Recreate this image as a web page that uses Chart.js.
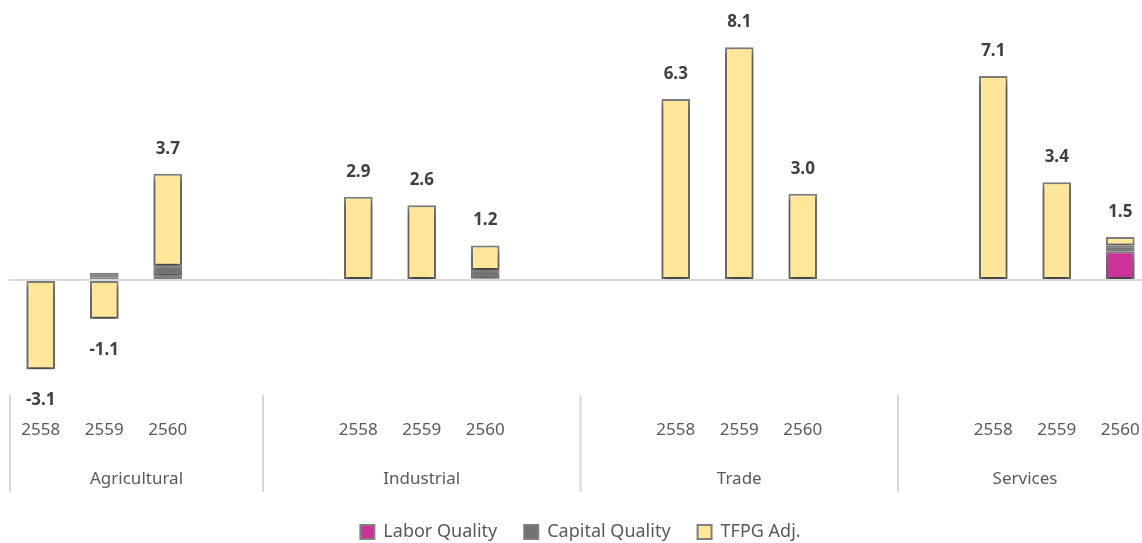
<!DOCTYPE html>
<html>
<head>
<meta charset="utf-8">
<script src="https://cdn.jsdelivr.net/npm/chart.js@4.4.0/dist/chart.umd.min.js"></script>
<style>
    html, body { margin: 0; padding: 0; background: #ffffff; overflow: hidden; }
    #wrap { width: 1170px; height: 543px; }
</style>
</head>
<body>
<div id="wrap"><canvas id="barChart" width="1170" height="543"></canvas></div>
<script>
// Sectors and years
var sectors = ['Agricultural', 'Industrial', 'Trade', 'Services'];
var years = ['2558', '2559', '2560'];

// Components of each bar (sector by sector, 2558-2560)
var laborQuality   = [0, 0.10, 0.15,   0, 0, 0.05,   0, 0, 0,   0, 0, 1.00];
var capitalQuality = [0, 0.15, 0.35,   0, 0, 0.30,   0, 0, 0,   0, 0, 0.20];
var tfpgAdj        = [-3.1, -1.35, 3.2,   2.9, 2.6, 0.85,   6.3, 8.1, 3.0,   7.1, 3.4, 0.3];

// Totals written above / below each bar
var totals = [-3.1, -1.1, 3.7,   2.9, 2.6, 1.2,   6.3, 8.1, 3.0,   7.1, 3.4, 1.5];

// Excel leaves two empty slots between sector groups
var gapSlots = 2;

function buildSlots(values) {
    var out = [];
    for (var s = 0; s < sectors.length; s++) {
        if (s > 0) {
            for (var g = 0; g < gapSlots; g++) out.push(null);
        }
        for (var y = 0; y < years.length; y++) {
            out.push(values[s * years.length + y]);
        }
    }
    return out;
}

var labels = buildSlots(sectors.flatMap(function () { return years; })).map(function (l) { return l === null ? '' : l; });
var slotTotals = buildSlots(totals);

// Drop shadow under the bars
var shadowPlugin = {
    id: 'barShadow',
    beforeDatasetsDraw: function (chart) {
        var ctx = chart.ctx;
        ctx.save();
        ctx.shadowColor = 'rgba(0,0,0,0.55)';
        ctx.shadowBlur = 6;
        ctx.shadowOffsetY = 4;
    },
    afterDatasetsDraw: function (chart) {
        chart.ctx.restore();
    }
};

// Value labels, sector names and separators
var extrasPlugin = {
    id: 'extras',
    afterDraw: function (chart) {
        var ctx = chart.ctx;
        var x = chart.scales.x;
        var yS = chart.scales.y;
        var sets = chart.data.datasets;
        ctx.save();

        // totals
        ctx.font = 'bold 17px "Noto Sans"';
        ctx.fillStyle = '#404040';
        ctx.textAlign = 'center';
        ctx.textBaseline = 'middle';
        for (var i = 0; i < labels.length; i++) {
            if (slotTotals[i] === null) continue;
            var pos = 0, neg = 0;
            sets.forEach(function (d) {
                var v = d.data[i] || 0;
                if (v > 0) pos += v; else neg += v;
            });
            var px = x.getPixelForValue(i);
            if (slotTotals[i] >= 0) {
                ctx.fillText(slotTotals[i].toFixed(1), px, yS.getPixelForValue(pos) - 25);
            } else {
                ctx.fillText(slotTotals[i].toFixed(1), px, yS.getPixelForValue(neg) + 31);
            }
        }

        // separators between sector groups
        var bottom = chart.chartArea.bottom;
        var seps = [chart.chartArea.left + 1];
        var per = years.length + gapSlots;
        for (var s = 1; s < sectors.length; s++) {
            var a = s * per - gapSlots;
            seps.push((x.getPixelForValue(a) + x.getPixelForValue(a + 1)) / 2);
        }
        seps.push(chart.chartArea.right);
        ctx.strokeStyle = '#d9d9d9';
        ctx.lineWidth = 2;
        seps.forEach(function (sx) {
            ctx.beginPath();
            ctx.moveTo(sx, bottom);
            ctx.lineTo(sx, bottom + 97);
            ctx.stroke();
        });

        // sector names centred between separators
        ctx.font = '17px "Noto Sans"';
        ctx.fillStyle = '#595959';
        for (var k = 0; k < sectors.length; k++) {
            ctx.fillText(sectors[k], (seps[k] + seps[k + 1]) / 2, bottom + 84);
        }
        ctx.restore();
    }
};

var ctx = document.getElementById('barChart').getContext('2d');
var barChart = new Chart(ctx, {
    type: 'bar',
    data: {
        labels: labels,
        datasets: [{
            label: 'Labor Quality',
            data: buildSlots(laborQuality),
            backgroundColor: '#cc3399',
            borderColor: '#7f7f7f',
            borderWidth: 2
        }, {
            label: 'Capital Quality',
            data: buildSlots(capitalQuality),
            backgroundColor: '#767171',
            borderColor: '#7f7f7f',
            borderWidth: 2
        }, {
            label: 'TFPG Adj.',
            data: buildSlots(tfpgAdj),
            backgroundColor: '#ffe699',
            borderColor: '#7f7f7f',
            borderWidth: 2
        }]
    },
    options: {
        responsive: false,
        animation: false,
        layout: { padding: { top: 7, left: 9, right: 18, bottom: -8 } },
        datasets: {
            bar: { categoryPercentage: 1, barPercentage: 0.45, borderSkipped: false }
        },
        scales: {
            x: {
                stacked: true,
                grid: { display: false },
                border: { display: false },
                ticks: {
                    color: '#595959',
                    font: { family: 'Noto Sans', size: 17 },
                    padding: 17,
                    autoSkip: false,
                    maxRotation: 0
                },
                afterFit: function (scale) { scale.height = 101; }
            },
            y: {
                stacked: true,
                min: -4,
                max: 9.5,
                border: { display: false },
                ticks: { display: false, stepSize: 1 },
                grid: {
                    drawTicks: false,
                    lineWidth: 2,
                    color: function (c) { return c.tick && c.tick.value === 0 ? '#d9d9d9' : 'rgba(0,0,0,0)'; }
                }
            }
        },
        plugins: {
            tooltip: { enabled: false },
            legend: {
                position: 'bottom',
                labels: {
                    color: '#595959',
                    font: { family: 'Noto Sans', size: 18 },
                    boxWidth: 14,
                    boxHeight: 14,
                    padding: 27
                }
            }
        }
    },
    plugins: [shadowPlugin, extrasPlugin]
});
</script>
</body>
</html>
